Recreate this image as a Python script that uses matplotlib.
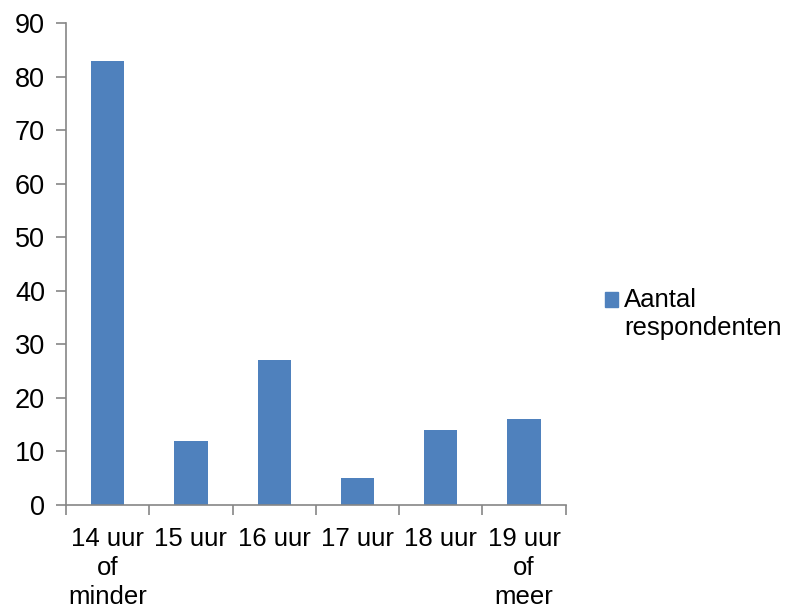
import matplotlib.pyplot as plt
import numpy as np
from matplotlib.legend_handler import HandlerPatch
from matplotlib.patches import Rectangle

plt.rcParams['font.family'] = ['Liberation Sans', 'DejaVu Sans']

# data
categories = ['14 uur\nof\nminder', '15 uur', '16 uur', '17 uur', '18 uur', '19 uur\nof\nmeer']
respondenten = [83, 12, 27, 5, 14, 16]

bar_color = '#4F81BD'
axis_color = '#868686'
fs = 18.5

fig = plt.figure(figsize=(7.9, 6.09), dpi=100)
ax = fig.add_axes([0.0835, 0.171, 0.6325, 0.791])

x = np.arange(len(categories))
bars = ax.bar(x, respondenten, width=0.4, color=bar_color)

ax.set_xlim(-0.5, len(categories) - 0.5)
ax.set_ylim(0, 90)
ax.set_yticks(range(0, 91, 10))

# labels in the middle of each category, tick marks on the boundaries
ax.set_xticks(x)
ax.set_xticklabels(categories, fontsize=fs, linespacing=1.26)
ax.tick_params(axis='x', which='major', length=0, pad=16)
ax.set_xticks(np.arange(-0.5, len(categories), 1), minor=True)
ax.tick_params(axis='x', which='minor', length=7, color=axis_color, width=1.2)
ax.tick_params(axis='y', length=7, color=axis_color, width=1.2, labelsize=19.5, pad=8)

for side in ['top', 'right']:
    ax.spines[side].set_visible(False)
for side in ['left', 'bottom']:
    ax.spines[side].set_color(axis_color)
    ax.spines[side].set_linewidth(1.2)


# legend square sits next to the first line of the label, like Excel does
def top_square(legend, orig_handle, xdescent, ydescent, width, height, fontsize):
    return Rectangle((-xdescent, -ydescent + 10.5), width, height)


handle = Rectangle((0, 0), 1, 1, color=bar_color)
fig.legend([handle], ['Aantal\nrespondenten'], loc='center left',
           bbox_to_anchor=(0.766, 0.485), frameon=False, borderpad=0,
           borderaxespad=0, fontsize=fs, handlelength=0.5, handleheight=0.5,
           handletextpad=0.25,
           handler_map={Rectangle: HandlerPatch(patch_func=top_square)})

fig.savefig('out.png', dpi=100)
